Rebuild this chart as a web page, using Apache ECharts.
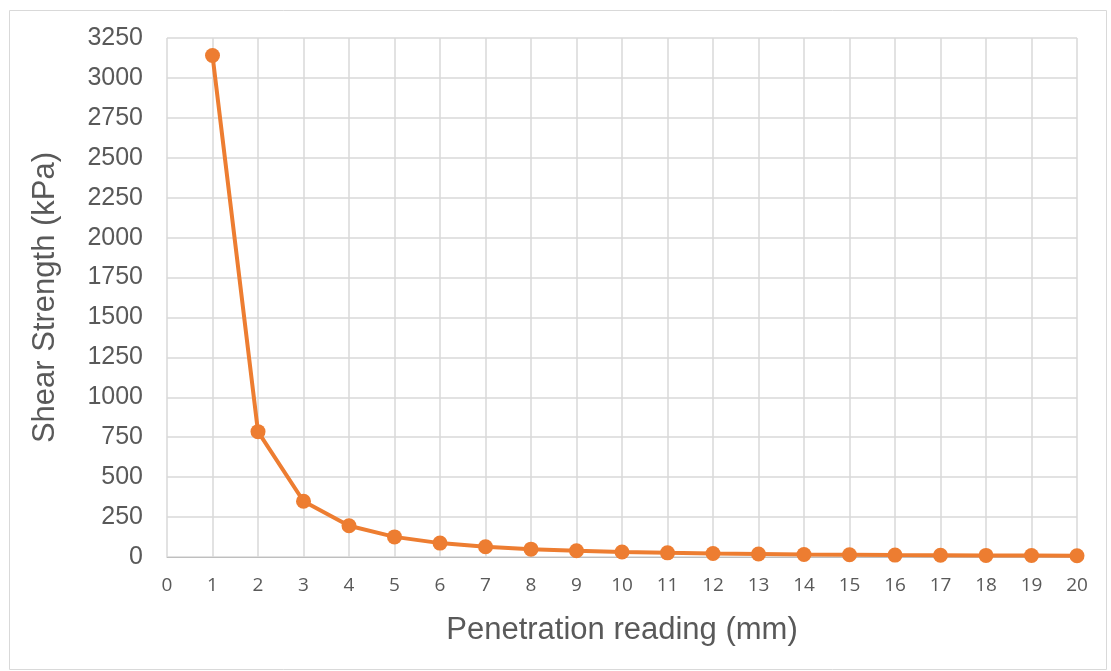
<!DOCTYPE html>
<html>
<head>
<meta charset="utf-8">
<script src="https://cdn.jsdelivr.net/npm/echarts@6/dist/echarts.min.js"></script>
<style>
  html, body { margin: 0; padding: 0; background: #fff; }
  #chart { width: 1111px; height: 671px; }
</style>
</head>
<body>
<div id="chart"></div>
<script>
// penetration reading (mm) vs shear strength (kPa)
var penetration = [1, 2, 3, 4, 5, 6, 7, 8, 9, 10, 11, 12, 13, 14, 15, 16, 17, 18, 19, 20];
var shearStrength = [3140, 785, 349, 196, 126, 87, 64, 49, 39, 31, 26, 22, 19, 16, 14, 12, 11, 10, 9, 8];

var points = [];
for (let i = 0; i < penetration.length; i++) {
  points.push([penetration[i], shearStrength[i]]);
}

var myChart = echarts.init(document.getElementById('chart'));
var option = {
  animation: false,
  graphic: [{
    type: 'rect',
    left: 7, top: 8,
    shape: { width: 1097, height: 659 },
    style: { fill: 'none', stroke: '#d9d9d9', lineWidth: 1 },
    silent: true
  }],
  grid: { left: 167, right: 34, top: 38, bottom: 114 },
  xAxis: {
    type: 'value',
    min: 0, max: 20, interval: 1,
    name: 'Penetration reading (mm)',
    nameLocation: 'middle',
    nameGap: 58,
    nameTextStyle: { fontFamily: 'Liberation Sans', fontSize: 31, color: '#595959' },
    axisLine: { show: true, lineStyle: { color: '#bfbfbf', width: 1 } },
    axisTick: { show: false },
    axisLabel: { fontFamily: 'Open Sans', fontSize: 19, color: '#595959', margin: 19 },
    splitLine: { show: true, lineStyle: { color: '#d9d9d9', width: 1.5 } }
  },
  yAxis: {
    type: 'value',
    min: 0, max: 3250, interval: 250,
    name: 'Shear Strength (kPa)',
    nameLocation: 'middle',
    nameGap: 106,
    nameTextStyle: { fontFamily: 'Liberation Sans', fontSize: 31, color: '#595959' },
    axisLine: { show: false },
    axisTick: { show: false },
    axisLabel: {
      fontFamily: 'Liberation Sans', fontSize: 25, color: '#595959', margin: 24,
      formatter: function (v) { return String(v); }
    },
    splitLine: { show: true, lineStyle: { color: '#d9d9d9', width: 1.5 } }
  },
  series: [{
    type: 'line',
    data: points,
    symbol: 'circle',
    symbolSize: 15,
    itemStyle: { color: '#ed7d31' },
    lineStyle: { color: '#ed7d31', width: 4 }
  }]
};
myChart.setOption(option);
</script>
</body>
</html>
